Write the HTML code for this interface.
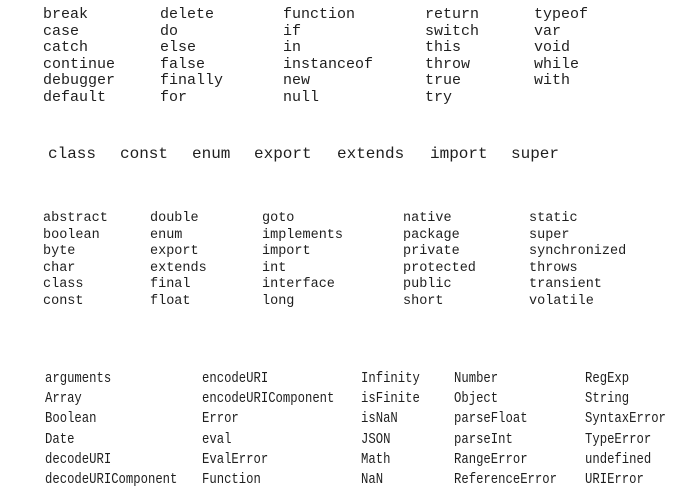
<!DOCTYPE html>
<html><head><meta charset="utf-8"><style>
html,body{margin:0;padding:0;background:#fff;}
body{width:689px;height:502px;position:relative;overflow:hidden;color:#1e1e1e;}
.c{position:absolute;white-space:pre;}
.s1{font:15px/16.5px "Liberation Mono",monospace;top:7px;}
.s2{font:16px/20px "Liberation Mono",monospace;top:144px;}
.s3{font:13.5px/16.6px "Liberation Mono",monospace;top:211px;}
.s4{font:15px/20.2px "Liberation Mono",monospace;top:369px;transform:scaleX(0.817);transform-origin:0 0;}
</style></head><body>
<div class="c s1" style="left:43px">break
case
catch
continue
debugger
default</div>
<div class="c s1" style="left:160px">delete
do
else
false
finally
for</div>
<div class="c s1" style="left:283px">function
if
in
instanceof
new
null</div>
<div class="c s1" style="left:425px">return
switch
this
throw
true
try</div>
<div class="c s1" style="left:534px">typeof
var
void
while
with</div>

<div class="c s2" style="left:48px">class</div>
<div class="c s2" style="left:120px">const</div>
<div class="c s2" style="left:192px">enum</div>
<div class="c s2" style="left:254px">export</div>
<div class="c s2" style="left:337px">extends</div>
<div class="c s2" style="left:430px">import</div>
<div class="c s2" style="left:511px">super</div>

<div class="c s3" style="left:43px">abstract
boolean
byte
char
class
const</div>
<div class="c s3" style="left:150px">double
enum
export
extends
final
float</div>
<div class="c s3" style="left:262px">goto
implements
import
int
interface
long</div>
<div class="c s3" style="left:403px">native
package
private
protected
public
short</div>
<div class="c s3" style="left:529px">static
super
synchronized
throws
transient
volatile</div>

<div class="c s4" style="left:45px">arguments
Array
Boolean
Date
decodeURI
decodeURIComponent</div>
<div class="c s4" style="left:202px">encodeURI
encodeURIComponent
Error
eval
EvalError
Function</div>
<div class="c s4" style="left:361px">Infinity
isFinite
isNaN
JSON
Math
NaN</div>
<div class="c s4" style="left:454px">Number
Object
parseFloat
parseInt
RangeError
ReferenceError</div>
<div class="c s4" style="left:585px">RegExp
String
SyntaxError
TypeError
undefined
URIError</div>
</body></html>
